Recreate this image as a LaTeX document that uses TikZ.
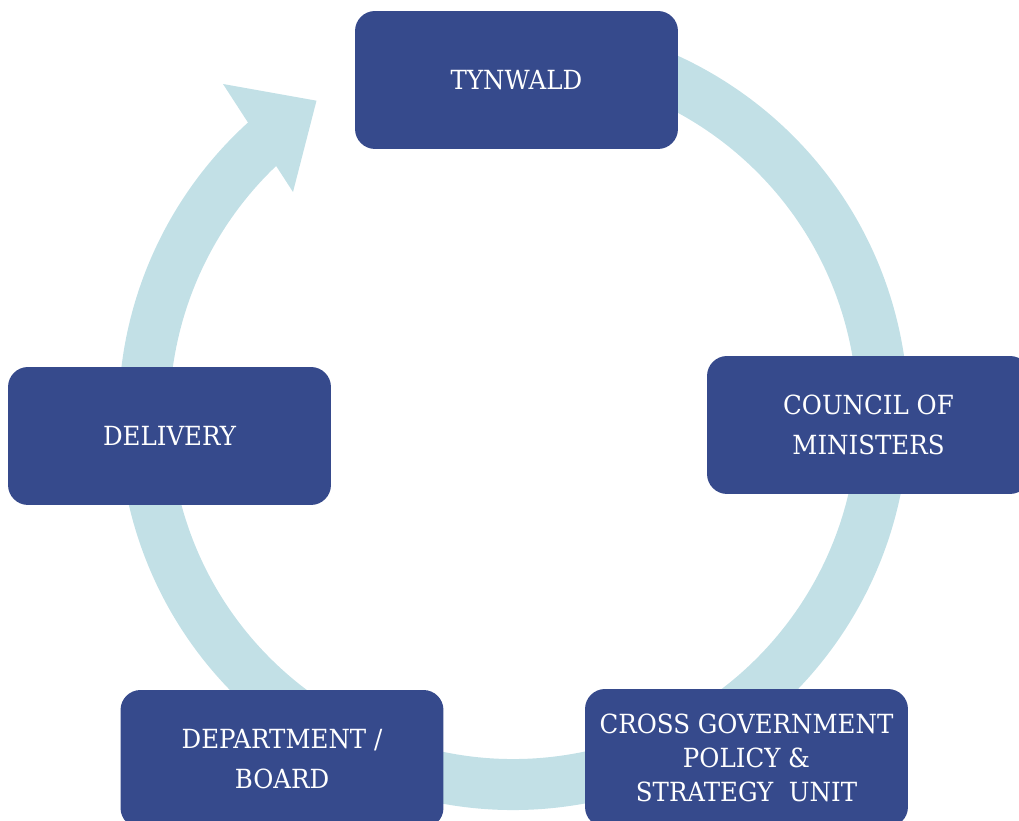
\documentclass[tikz,border=0pt]{standalone}
\usepackage{fontspec}
\setmainfont{DejaVu Serif}[FakeStretch=0.93]
\definecolor{boxblue}{HTML}{364A8C}
\definecolor{ringblue}{HTML}{C2E0E6}

\begin{document}
\begin{tikzpicture}[x=0.02cm, y=0.02cm,
    stage/.style={fill=boxblue, rounded corners=0.4cm, minimum width=6.46cm, minimum height=2.76cm,
      text=white, align=center, inner sep=0pt, font=\fontsize{15}{22.5}\selectfont}]
  \useasboundingbox (0,0) rectangle (1019,821);
  \clip (0,0) rectangle (1019,821);

  % Ring, clockwise from under Tynwald round to the arrow
  \draw[ringblue, line width=1.02cm] (513.5,406) ++(100:369.5)
    arc[start angle=100, end angle=-229, radius=369.5];
  % Arrow head
  \fill[ringblue] (223,737) -- (316.5,720.3) -- (293,629) -- cycle;

  % Boxes
  \node[stage] (tynwald) at (516.5,741) {TYNWALD};
  \node[stage] (council) at (868.5,396) {COUNCIL OF\\MINISTERS};
  \node[stage] (delivery) at (169.5,385) {DELIVERY};
  \node[stage] (department) at (282,62) {DEPARTMENT /\\BOARD};
  \node[stage, font=\fontsize{15}{19.3}\selectfont] (crossgov) at (746.5,63)
    {CROSS GOVERNMENT\\POLICY \&\\STRATEGY\ \ UNIT};
\end{tikzpicture}
\end{document}
